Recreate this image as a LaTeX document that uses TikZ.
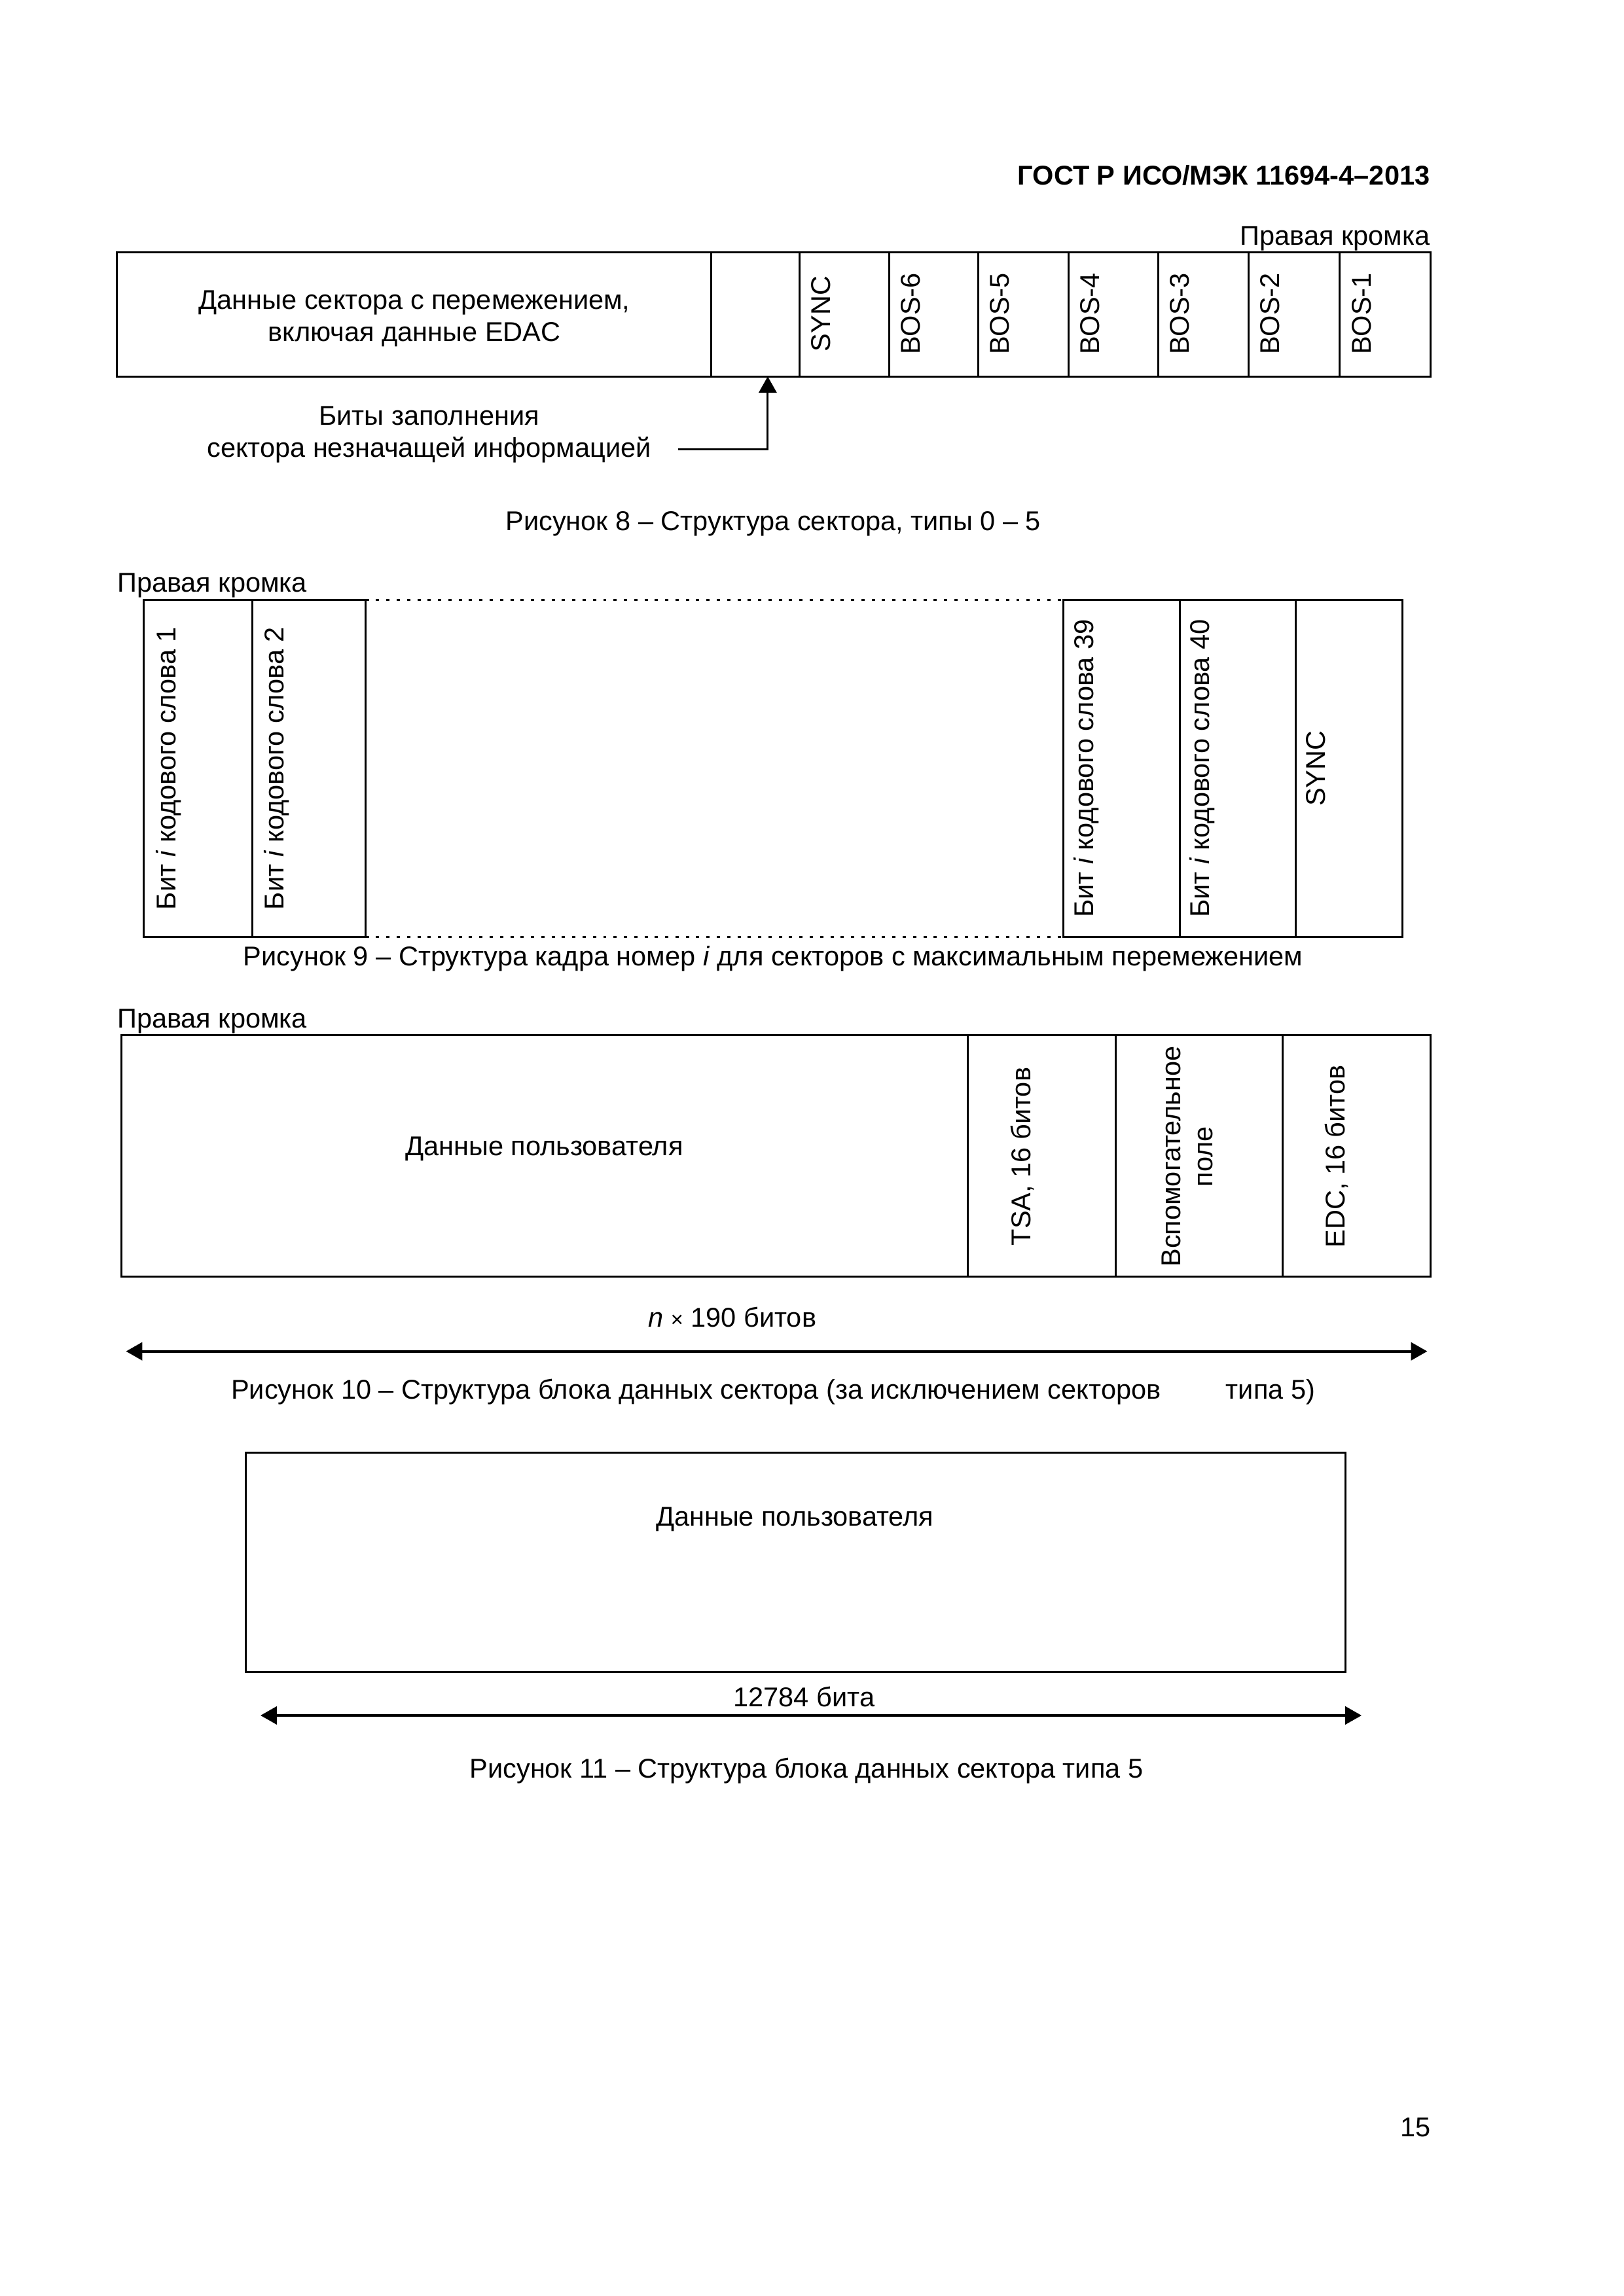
\documentclass[tikz,border=0pt]{standalone}
\usepackage{fontspec}
\setmainfont{Liberation Sans}
\usetikzlibrary{arrows.meta}

\tikzset{
    frame/.style={line width=0.7pt},
    gapline/.style={line width=0.7pt, dash pattern=on 1.2pt off 2.6pt},
    lbl/.style={font=\fontsize{10}{11.8}\selectfont, inner sep=0pt, align=center},
    hlbl/.style={lbl, yshift=-1pt},
    vlbl/.style={lbl, rotate=90},
    dimline/.style={line width=0.9pt, {Triangle[length=2.1mm,width=2.3mm]}-{Triangle[length=2.1mm,width=2.3mm]}},
    fillarrow/.style={line width=0.7pt, -{Triangle[length=2.1mm,width=2.3mm]}}
}

\begin{document}
\begin{tikzpicture}
    \useasboundingbox (0,0) rectangle (21,-29.7);
    \fill[white] (0,0) rectangle (21,-29.7);

    % Page header
    \node[hlbl, anchor=east, font=\fontsize{10}{12}\selectfont\bfseries] (head) at (18.50,-2.23) {ГОСТ Р ИСО/МЭК 11694-4–2013};

    % ==========================================
    % Figure 8: sector structure, types 0 - 5
    % ==========================================
    \begin{scope}
        \node[hlbl, anchor=east] (edge8) at (18.50,-3.05) {Правая кромка};

        % Frame and cells
        \draw[frame] (1.51,-3.26) rectangle (18.50,-4.87);
        \draw[frame] (9.20,-3.26) -- (9.20,-4.87);
        \draw[frame] (10.34,-3.26) -- (10.34,-4.87);
        \draw[frame] (11.50,-3.26) -- (11.50,-4.87);
        \draw[frame] (12.65,-3.26) -- (12.65,-4.87);
        \draw[frame] (13.82,-3.26) -- (13.82,-4.87);
        \draw[frame] (14.98,-3.26) -- (14.98,-4.87);
        \draw[frame] (16.15,-3.26) -- (16.15,-4.87);
        \draw[frame] (17.33,-3.26) -- (17.33,-4.87);

        % Cell labels
        \node[hlbl] (data8) at (5.36,-4.09) {Данные сектора с перемежением,\\включая данные EDAC};
        \node[vlbl] (sync8) at (10.62,-4.06) {SYNC};
        \node[vlbl] (bos6) at (11.78,-4.06) {BOS-6};
        \node[vlbl] (bos5) at (12.93,-4.06) {BOS-5};
        \node[vlbl] (bos4) at (14.10,-4.06) {BOS-4};
        \node[vlbl] (bos3) at (15.26,-4.06) {BOS-3};
        \node[vlbl] (bos2) at (16.43,-4.06) {BOS-2};
        \node[vlbl] (bos1) at (17.61,-4.06) {BOS-1};

        % Fill bits pointer
        \node[hlbl] (fillbits) at (5.55,-5.59) {Биты заполнения\\сектора незначащей информацией};
        \coordinate (fillfrom) at (8.77,-5.81);
        \coordinate (fillgap) at (9.93,-4.87);
        \draw[fillarrow] (fillfrom) -| (fillgap);

        \node[hlbl] (cap8) at (10.00,-6.74) {Рисунок 8 – Структура сектора, типы 0 – 5};
    \end{scope}

    % ==========================================
    % Figure 9: frame i, maximum interleaving
    % ==========================================
    \begin{scope}
        \node[hlbl, anchor=west] (edge9) at (1.51,-7.54) {Правая кромка};

        % Left block
        \draw[frame] (1.86,-7.76) rectangle (4.73,-12.12);
        \draw[frame] (3.26,-7.76) -- (3.26,-12.12);

        % Omitted words
        \draw[gapline] (4.73,-7.76) -- (13.75,-7.76);
        \draw[gapline] (4.73,-12.12) -- (13.75,-12.12);

        % Right block
        \draw[frame] (13.75,-7.76) rectangle (18.14,-12.12);
        \draw[frame] (15.26,-7.76) -- (15.26,-12.12);
        \draw[frame] (16.76,-7.76) -- (16.76,-12.12);

        \node[vlbl] (word1) at (2.18,-9.94) {Бит \textit{i} кодового слова 1};
        \node[vlbl] (word2) at (3.58,-9.94) {Бит \textit{i} кодового слова 2};
        \node[vlbl] (word39) at (14.05,-9.94) {Бит \textit{i} кодового слова 39};
        \node[vlbl] (word40) at (15.55,-9.94) {Бит \textit{i} кодового слова 40};
        \node[vlbl] (sync9) at (17.02,-9.94) {SYNC};

        \node[hlbl] (cap9) at (10.00,-12.37) {Рисунок 9 – Структура кадра номер \textit{i} для секторов с максимальным перемежением};
    \end{scope}

    % ==========================================
    % Figure 10: data block (not type 5)
    % ==========================================
    \begin{scope}
        \node[hlbl, anchor=west] (edge10) at (1.51,-13.18) {Правая кромка};

        \draw[frame] (1.57,-13.39) rectangle (18.50,-16.51);
        \draw[frame] (12.52,-13.39) -- (12.52,-16.51);
        \draw[frame] (14.43,-13.39) -- (14.43,-16.51);
        \draw[frame] (16.59,-13.39) -- (16.59,-16.51);

        \node[hlbl] (user10) at (7.04,-14.83) {Данные пользователя};
        \node[vlbl] (tsa) at (13.22,-14.96) {TSA, 16 битов};
        \node[vlbl] (aux) at (15.36,-14.96) {Вспомогательное\\поле};
        \node[vlbl] (edc) at (17.29,-14.96) {EDC, 16 битов};

        % Block length
        \node[hlbl] (len10) at (9.47,-17.00) {\textit{n} {\footnotesize ×} 190 битов};
        \coordinate (len10l) at (1.63,-17.48);
        \coordinate (len10r) at (18.46,-17.48);
        \draw[dimline] (len10l) -- (len10r);

        \node[hlbl] (cap10) at (10.00,-17.97) {Рисунок 10 – Структура блока данных сектора (за исключением секторов\hspace{2.4em}типа 5)};
    \end{scope}

    % ==========================================
    % Figure 11: data block, type 5
    % ==========================================
    \begin{scope}
        \draw[frame] (3.18,-18.79) rectangle (17.40,-21.63);
        \node[hlbl] (user11) at (10.28,-19.62) {Данные пользователя};

        % Block length
        \node[hlbl] (len11) at (10.40,-21.91) {12784 бита};
        \coordinate (len11l) at (3.37,-22.19);
        \coordinate (len11r) at (17.61,-22.19);
        \draw[dimline] (len11l) -- (len11r);

        \node[hlbl] (cap11) at (10.43,-22.87) {Рисунок 11 – Структура блока данных сектора типа 5};
    \end{scope}

    % Page number
    \node[hlbl] (page) at (18.31,-27.48) {15};
\end{tikzpicture}
\end{document}
